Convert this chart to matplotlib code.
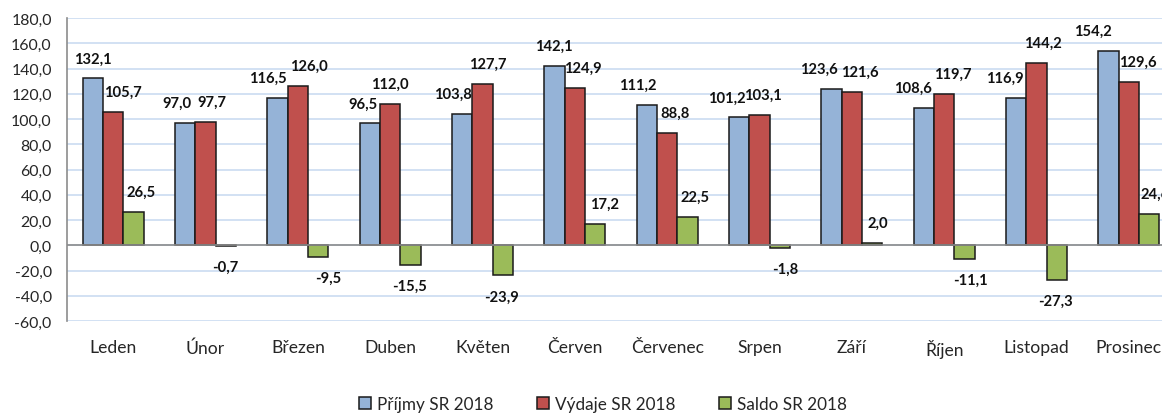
import matplotlib
matplotlib.use("Agg")
import matplotlib.pyplot as plt
import numpy as np

plt.rcParams['font.family'] = ['Lato', 'DejaVu Sans']

months = ["Leden", "Únor", "Březen", "Duben", "Květen", "Červen", "Červenec",
          "Srpen", "Září", "Říjen", "Listopad", "Prosinec"]
prijmy = [132.1, 97.0, 116.5, 96.5, 103.8, 142.1, 111.2, 101.2, 123.6, 108.6, 116.9, 154.2]
vydaje = [105.7, 97.7, 126.0, 112.0, 127.7, 124.9, 88.8, 103.1, 121.6, 119.7, 144.2, 129.6]
saldo = [26.5, -0.7, -9.5, -15.5, -23.9, 17.2, 22.5, -1.8, 2.0, -11.1, -27.3, 24.6]
series_names = ["Příjmy SR 2018", "Výdaje SR 2018", "Saldo SR 2018"]
yticks = [-60, -40, -20, 0, 20, 40, 60, 80, 100, 120, 140, 160, 180]

# horizontal nudges of the data labels (pixels), as placed in the original
nudge_prijmy = [0, -8, -10, -7, -9, -1, -9, -12, -13, -11, -11, -16]
nudge_vydaje = [10, 6, 11, 0, 5, 8, 8, 3, 8, 9, 6, 9]
nudge_saldo = [8, -1, 10, -1, -1, 9, 7, 5, 6, 6, -1, 6]

colors = ["#95B3D7", "#C0504D", "#9BBB59"]
W, H = 1162, 414
fig = plt.figure(figsize=(W / 100, H / 100), dpi=100)
ax = fig.add_axes([67 / W, 92 / H, 1108 / W, 303 / H])

x = np.arange(len(months))
bw = 0.221
data = [prijmy, vydaje, saldo]
nudges = [nudge_prijmy, nudge_vydaje, nudge_saldo]
px2pt = 72 / 100
for k, (vals, col, name, nd) in enumerate(zip(data, colors, series_names, nudges)):
    xs = x + (k - 1) * bw
    ax.bar(xs, vals, width=bw, color=col, edgecolor="#1a1a1a", linewidth=1.1,
           label=name, zorder=3)
    for xi, v, d in zip(xs, vals, nd):
        lbl = f"{v:.1f}".replace(".", ",")
        dy = 20 if v >= 0 else -21
        ax.annotate(lbl, (xi, v), xytext=(d * px2pt, dy * px2pt),
                    textcoords="offset points", ha="center", va="center",
                    fontsize=10.6, fontweight="bold", color="#111111",
                    annotation_clip=False, zorder=4)

ax.set_xlim(-0.5, len(months) - 0.5)
ax.set_ylim(-60, 180)
ax.set_yticks(yticks)
ax.set_yticklabels([f"{t:.1f}".replace(".", ",") for t in yticks])
ax.set_xticks(x)
ax.set_xticklabels(months)
ax.tick_params(axis="y", length=0, pad=11, labelsize=11.4, labelcolor="#262626")
ax.tick_params(axis="x", length=0, pad=13, labelsize=12.6, labelcolor="#262626")

ax.grid(axis="y", color="#C6D9F0", linewidth=1.1, zorder=0)
ax.set_axisbelow(True)
ax.axhline(0, color="#8C8C8C", linewidth=1.2, zorder=3.5)
for s in ["top", "right", "bottom"]:
    ax.spines[s].set_visible(False)
ax.spines["left"].set_color("#8C8C8C")
ax.spines["left"].set_linewidth(1.2)

fig.legend(loc="center", bbox_to_anchor=(603 / W, 9 / H), ncol=3, frameon=False,
           fontsize=12.3, handlelength=0.7, handleheight=0.7, handletextpad=0.3,
           columnspacing=2.6, labelcolor="#262626", borderaxespad=0, borderpad=0)

fig.savefig("out.png", dpi=100)
